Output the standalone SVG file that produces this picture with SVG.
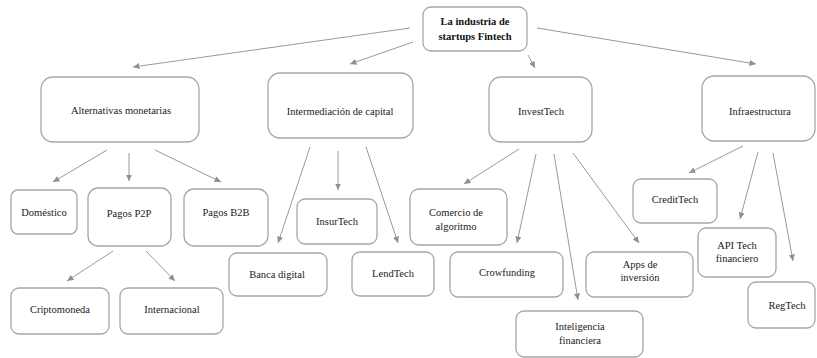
<svg xmlns="http://www.w3.org/2000/svg" width="817" height="358" viewBox="0 0 817 358">
  <defs>
    <marker id="arrow" markerUnits="userSpaceOnUse" markerWidth="7" markerHeight="6" refX="6.5" refY="3" orient="auto">
      <path d="M0,0 L6.5,3 L0,6 z" fill="#8f8f8f"/>
    </marker>
    <style>
      .box { fill: #ffffff; stroke: #a6a6a6; stroke-width: 1.3; }
      .lbl { font-family: "Liberation Serif", "Times New Roman", serif; font-size: 10.5px; fill: #1a1a1a; text-anchor: middle; }
      .root { font-weight: bold; fill: #111111; }
      .edge { stroke: #999999; stroke-width: 1; fill: none; marker-end: url(#arrow); }
    </style>
  </defs>
  <rect width="817" height="358" fill="#ffffff"/>

  <!-- connectors -->
  <g id="connectors">
    <line class="edge" x1="410" y1="28" x2="133" y2="67"/>
    <line class="edge" x1="413" y1="42" x2="350" y2="64"/>
    <line class="edge" x1="528" y1="55" x2="535" y2="68"/>
    <line class="edge" x1="537" y1="28" x2="756" y2="64"/>

    <line class="edge" x1="107" y1="150" x2="53" y2="182"/>
    <line class="edge" x1="129" y1="153" x2="129" y2="181"/>
    <line class="edge" x1="155" y1="150" x2="221" y2="182"/>

    <line class="edge" x1="113" y1="251" x2="67" y2="281"/>
    <line class="edge" x1="146" y1="251" x2="175" y2="281"/>

    <line class="edge" x1="310" y1="147" x2="278" y2="243"/>
    <line class="edge" x1="338" y1="151" x2="338" y2="190"/>
    <line class="edge" x1="366" y1="147" x2="398" y2="243"/>

    <line class="edge" x1="519" y1="149" x2="464" y2="184"/>
    <line class="edge" x1="536" y1="154" x2="517" y2="243"/>
    <line class="edge" x1="554" y1="154" x2="578" y2="300"/>
    <line class="edge" x1="573" y1="153" x2="639" y2="243"/>

    <line class="edge" x1="743" y1="146" x2="689" y2="173"/>
    <line class="edge" x1="758" y1="152" x2="740" y2="219"/>
    <line class="edge" x1="773" y1="153" x2="793" y2="261"/>
  </g>

  <!-- root -->
  <g id="root">
    <rect class="box" x="423" y="7" width="104" height="44" rx="8"/>
    <text class="lbl root" x="475" y="25">La industria de</text>
    <text class="lbl root" x="475" y="40">startups Fintech</text>
  </g>

  <!-- first level -->
  <g id="alternativas">
    <rect class="box" x="41" y="77" width="158" height="65" rx="12"/>
    <text class="lbl" x="121" y="114">Alternativas monetarias</text>
  </g>
  <g id="intermediacion">
    <rect class="box" x="268" y="73" width="145" height="65" rx="12"/>
    <text class="lbl" x="340" y="115">Intermediación de capital</text>
  </g>
  <g id="investtech">
    <rect class="box" x="489" y="77" width="103" height="65" rx="12"/>
    <text class="lbl" x="541" y="115">InvestTech</text>
  </g>
  <g id="infraestructura">
    <rect class="box" x="702" y="76" width="113" height="65" rx="12"/>
    <text class="lbl" x="760" y="115">Infraestructura</text>
  </g>

  <!-- Alternativas monetarias branch -->
  <g id="domestico">
    <rect class="box" x="11" y="190" width="66" height="44" rx="7"/>
    <text class="lbl" x="44" y="216">Doméstico</text>
  </g>
  <g id="pagos-p2p">
    <rect class="box" x="88" y="188" width="83" height="58" rx="10"/>
    <text class="lbl" x="129" y="217">Pagos P2P</text>
  </g>
  <g id="pagos-b2b">
    <rect class="box" x="184" y="189" width="84" height="57" rx="10"/>
    <text class="lbl" x="226" y="216">Pagos B2B</text>
  </g>
  <g id="criptomoneda">
    <rect class="box" x="11" y="288" width="98" height="46" rx="8"/>
    <text class="lbl" x="60" y="313">Criptomoneda</text>
  </g>
  <g id="internacional">
    <rect class="box" x="120" y="288" width="103" height="46" rx="8"/>
    <text class="lbl" x="172" y="313">Internacional</text>
  </g>

  <!-- Intermediación de capital branch -->
  <g id="insurtech">
    <rect class="box" x="297" y="199" width="80" height="45" rx="8"/>
    <text class="lbl" x="337" y="225">InsurTech</text>
  </g>
  <g id="banca-digital">
    <rect class="box" x="229" y="253" width="98" height="43" rx="8"/>
    <text class="lbl" x="277" y="278">Banca digital</text>
  </g>
  <g id="lendtech">
    <rect class="box" x="352" y="252" width="82" height="44" rx="8"/>
    <text class="lbl" x="393" y="277">LendTech</text>
  </g>

  <!-- InvestTech branch -->
  <g id="comercio-algoritmo">
    <rect class="box" x="410" y="189" width="97" height="56" rx="9"/>
    <text class="lbl" x="456" y="216">Comercio de</text>
    <text class="lbl" x="456" y="230">algoritmo</text>
  </g>
  <g id="crowfunding">
    <rect class="box" x="450" y="252" width="113" height="45" rx="8"/>
    <text class="lbl" x="507" y="276">Crowfunding</text>
  </g>
  <g id="inteligencia-financiera">
    <rect class="box" x="516" y="311" width="127" height="46" rx="8"/>
    <text class="lbl" x="580" y="330">Inteligencia</text>
    <text class="lbl" x="580" y="344">financiera</text>
  </g>
  <g id="apps-inversion">
    <rect class="box" x="586" y="252" width="107" height="45" rx="8"/>
    <text class="lbl" x="640" y="268">Apps de</text>
    <text class="lbl" x="640" y="281">inversión</text>
  </g>

  <!-- Infraestructura branch -->
  <g id="credittech">
    <rect class="box" x="633" y="179" width="84" height="44" rx="8"/>
    <text class="lbl" x="675" y="203">CreditTech</text>
  </g>
  <g id="api-tech">
    <rect class="box" x="698" y="228" width="78" height="49" rx="8"/>
    <text class="lbl" x="737" y="249">API Tech</text>
    <text class="lbl" x="737" y="262">financiero</text>
  </g>
  <g id="regtech">
    <rect class="box" x="748" y="282" width="67" height="46" rx="8"/>
    <text class="lbl" x="787" y="309">RegTech</text>
  </g>
</svg>
